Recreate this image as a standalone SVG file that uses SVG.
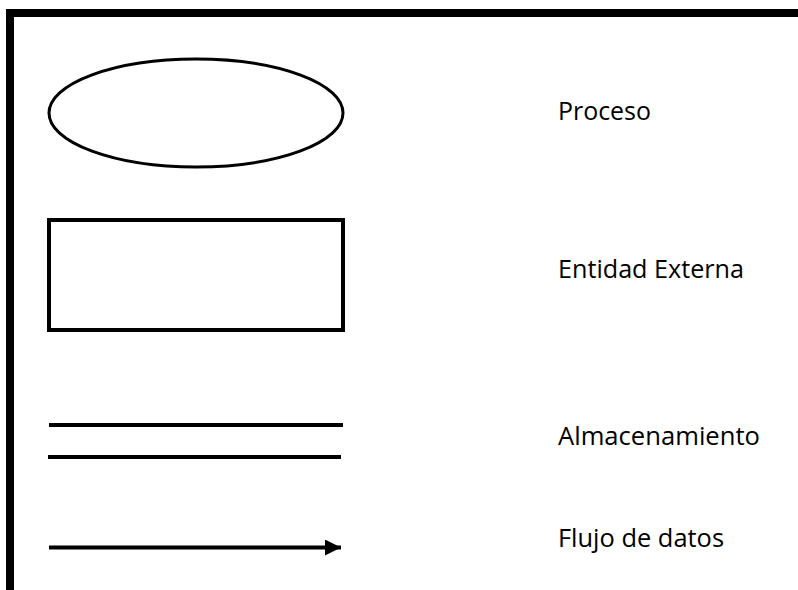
<svg xmlns="http://www.w3.org/2000/svg" width="798" height="590" viewBox="0 0 798 590">
  <style>
    .shape { fill: none; stroke: #000; }
    .label { font-family: "Open Sans", "Liberation Sans", Arial, sans-serif; font-size: 25px; fill: #000; }
  </style>
  <defs>
    <marker id="arrow" markerUnits="userSpaceOnUse" markerWidth="16" markerHeight="16" refX="16" refY="8" orient="auto">
      <polygon points="0,0 16,8 0,16" fill="#000"/>
    </marker>
  </defs>
  <rect x="0" y="0" width="798" height="590" fill="#fff"/>
  <g id="frame">
    <path class="shape" d="M10 590 V13 H798" stroke-width="8"/>
  </g>
  <g id="proceso">
    <ellipse class="shape" cx="196" cy="113" rx="147" ry="54" stroke-width="3"/>
    <text class="label" x="558" y="120" textLength="93" lengthAdjust="spacingAndGlyphs">Proceso</text>
  </g>
  <g id="entidad-externa">
    <rect class="shape" x="49" y="220" width="294" height="110" stroke-width="4"/>
    <text class="label" x="558" y="278" textLength="186" lengthAdjust="spacingAndGlyphs">Entidad Externa</text>
  </g>
  <g id="almacenamiento">
    <line class="shape" x1="49" y1="425" x2="343" y2="425" stroke-width="4"/>
    <line class="shape" x1="48" y1="457" x2="341" y2="457" stroke-width="4"/>
    <text class="label" x="558" y="445" textLength="202" lengthAdjust="spacingAndGlyphs">Almacenamiento</text>
  </g>
  <g id="connectors">
    <line class="shape" x1="49" y1="547.5" x2="341" y2="547.5" stroke-width="4" marker-end="url(#arrow)"/>
  </g>
  <g id="flujo-de-datos">
    <text class="label" x="558" y="547" textLength="166" lengthAdjust="spacingAndGlyphs">Flujo de datos</text>
  </g>
</svg>
